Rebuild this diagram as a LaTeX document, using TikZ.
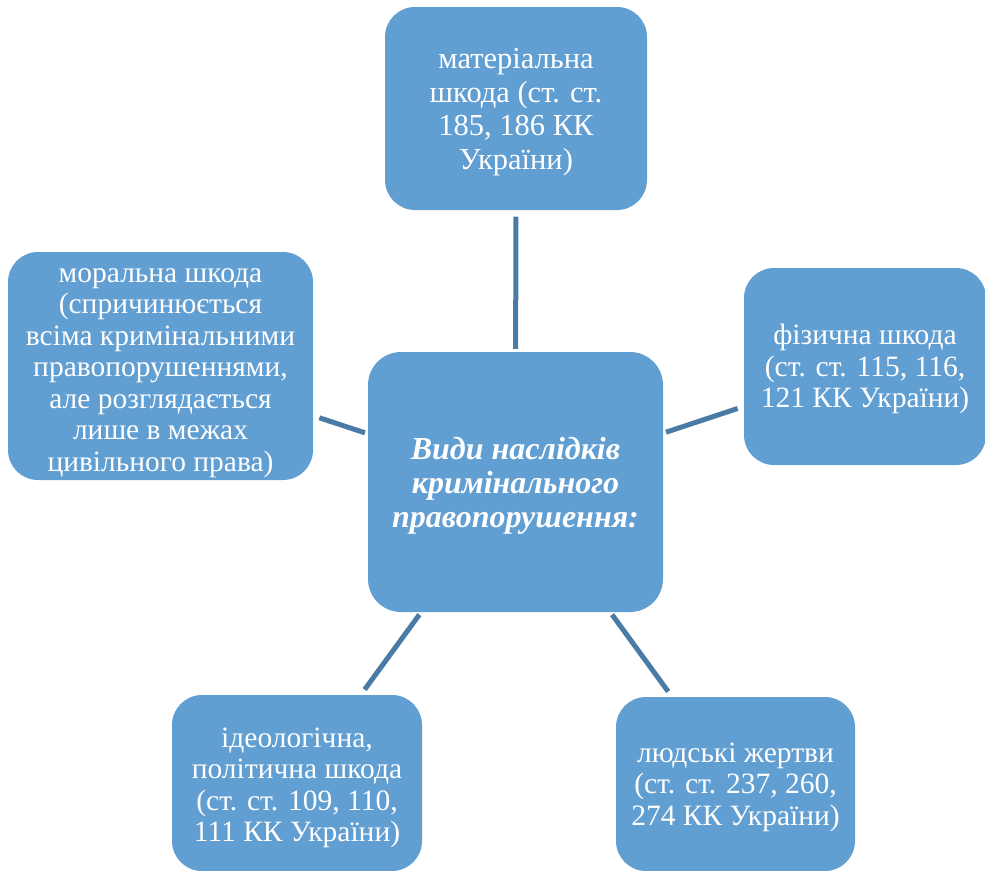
\documentclass[tikz,border=0pt]{standalone}
\usepackage{fontspec}
\setmainfont{Liberation Serif}
\definecolor{boxfill}{HTML}{619ED2}
\definecolor{linkcol}{HTML}{4A7BA7}
\begin{document}
\begin{tikzpicture}[x=1pt,y=-1pt,
  box/.style={fill=boxfill, rounded corners=30pt, inner sep=0pt},
  txt/.style={text=white, align=center, inner sep=0pt, font=\fontsize{29.5}{31.5}\selectfont},
  link/.style={draw=linkcol, line width=5pt, shorten <=3pt, shorten >=6.5pt}]
\useasboundingbox (0,0) rectangle (985,870);
% shapes
\node[box, minimum width=262pt, minimum height=203pt] (top) at (516,108.5) {};
\node[box, minimum width=242pt, minimum height=197pt] (right) at (865,366.5) {};
\node[box, minimum width=305pt, minimum height=228pt] (left) at (160.5,366) {};
\node[box, minimum width=295pt, minimum height=260pt, rounded corners=33pt] (c) at (515.5,482) {};
\node[box, minimum width=250pt, minimum height=176pt] (bl) at (297,783) {};
\node[box, minimum width=239pt, minimum height=174pt] (br) at (735.5,784) {};
% texts
\node[txt, font=\fontsize{30.5}{33.5}\selectfont] (top-t) at ([yshift=-3.5pt]top.center)
  {матеріальна\\шкода (ст. ст.\\185, 186 КК\\України)};
\node[txt] (right-t) at ([yshift=-2.5pt]right.center)
  {фізична шкода\\(ст. ст. 115, 116,\\121 КК України)};
\node[txt] (left-t) at ([yshift=-7pt]left.center)
  {моральна шкода\\(спричинюється\\всіма кримінальними\\правопорушеннями,\\але розглядається\\лише в межах\\цивільного права)};
\node[txt, font=\fontsize{32}{34}\selectfont\bfseries\itshape] (c-t) at ([yshift=-3.5pt]c.center)
  {Види наслідків\\кримінального\\правопорушення:};
\node[txt] (bl-t) at ([yshift=-5pt]bl.center)
  {ідеологічна,\\політична шкода\\(ст. ст. 109, 110,\\111 КК України)};
\node[txt] (br-t) at ([yshift=-3pt]br.center)
  {людські жертви\\(ст. ст. 237, 260,\\274 КК України)};
% connectors
\draw[link] (c) -- (top);
\draw[link] (c) -- (right);
\draw[link] (c) -- (left);
\draw[link] (c) -- (bl);
\draw[link] (c) -- (br);
\end{tikzpicture}
\end{document}
